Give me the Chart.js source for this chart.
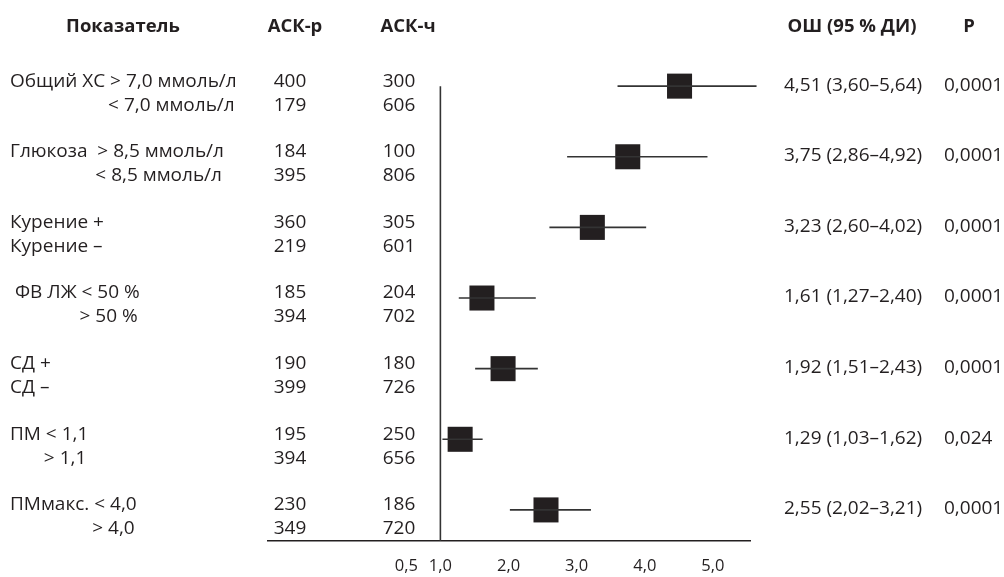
<!DOCTYPE html>
<html>
<head>
<meta charset="utf-8">
<script src="https://cdn.jsdelivr.net/npm/chart.js@4.4.1/dist/chart.umd.min.js"></script>
<style>
  html, body { margin: 0; padding: 0; background: #fff; }
  #wrap { width: 1004px; height: 577px; position: relative; }
</style>
</head>
<body>
<div id="wrap"><canvas id="forest"></canvas></div>
<script>
// rows of the table, top to bottom
const factorLabels = [
  ['Общий ХС > 7,0 ммоль/л', '< 7,0 ммоль/л'],
  ['Глюкоза  > 8,5 ммоль/л', '< 8,5 ммоль/л'],
  ['Курение +', 'Курение –'],
  [' ФВ ЛЖ < 50 %', '> 50 %'],
  ['СД +', 'СД –'],
  ['ПМ < 1,1', '> 1,1'],
  ['ПМмакс. < 4,0', '> 4,0']
];
const askR  = [[400, 179], [184, 395], [360, 219], [185, 394], [190, 399], [195, 394], [230, 349]];
const askCh = [[300, 606], [100, 806], [305, 601], [204, 702], [180, 726], [250, 656], [186, 720]];
const oddsRatio = [4.51, 3.75, 3.23, 1.61, 1.92, 1.29, 2.55];
const ciLow  = [3.60, 2.86, 2.60, 1.27, 1.51, 1.03, 2.02];
const ciHigh = [5.64, 4.92, 4.02, 2.40, 2.43, 1.62, 3.21];
const pValues = ['0,0001', '0,0001', '0,0001', '0,0001', '0,0001', '0,024', '0,0001'];
const tickValues = [0.5, 1, 2, 3, 4, 5];
const headers = ['Показатель', 'АСК-р', 'АСК-ч', 'ОШ (95 % ДИ)', 'Р'];

const ink = '#231f20';
const font = '"Open Sans", "Noto Sans", sans-serif';
const comma = (v, d) => v.toFixed(d).replace('.', ',');

const whiskers = oddsRatio.map((_, i) => ({
  type: 'scatter',
  showLine: true,
  data: [{x: ciLow[i], y: i}, {x: ciHigh[i], y: i}],
  borderColor: '#333',
  borderWidth: 1.6,
  pointRadius: 0,
  clip: false
}));

const tablePlugin = {
  id: 'forestTable',
  afterDraw(chart) {
    const {ctx, scales: {y}} = chart;
    ctx.save();
    ctx.fillStyle = ink;
    ctx.textBaseline = 'middle';

    ctx.font = 'bold 18.5px ' + font;
    ctx.textAlign = 'center';
    [123, 295, 408, 852, 969].forEach((cx, k) => ctx.fillText(headers[k], cx, 27));

    ctx.font = '19px ' + font;
    factorLabels.forEach((pair, i) => {
      const py = y.getPixelForValue(i);
      ctx.textAlign = 'left';
      ctx.fillText(pair[0], 10, py - 5);
      const w = ctx.measureText(pair[0]).width;
      if (/^[<>]/.test(pair[1])) {
        ctx.textAlign = 'right';
        ctx.fillText(pair[1], 10 + w - 2, py + 19);
      } else {
        ctx.fillText(pair[1], 10, py + 19);
      }
      ctx.textAlign = 'center';
      ctx.fillText(askR[i][0], 290, py - 5);
      ctx.fillText(askR[i][1], 290, py + 19);
      ctx.fillText(askCh[i][0], 399, py - 5);
      ctx.fillText(askCh[i][1], 399, py + 19);
      ctx.textAlign = 'left';
      ctx.fillText(comma(oddsRatio[i], 2) + ' (' + comma(ciLow[i], 2) + '–' + comma(ciHigh[i], 2) + ')', 784, py - 1);
      ctx.fillText(pValues[i], 944, py - 1);
    });
    ctx.restore();
  }
};

new Chart(document.getElementById('forest'), {
  type: 'scatter',
  data: {
    datasets: [
      {
        showLine: true,
        data: [{x: 1, y: 0}, {x: 1, y: 6.44}],
        borderColor: '#333',
        borderWidth: 1.6,
        pointRadius: 0
      },
      ...whiskers,
      {
        data: oddsRatio.map((v, i) => ({x: v, y: i})),
        pointStyle: 'rect',
        pointRadius: 17.7,
        pointHoverRadius: 17.7,
        backgroundColor: ink,
        borderColor: ink,
        borderWidth: 0
      }
    ]
  },
  options: {
    responsive: true,
    maintainAspectRatio: false,
    animation: false,
    layout: { padding: { left: 268, right: 254, top: 60, bottom: 0 } },
    plugins: { legend: { display: false }, tooltip: { enabled: false } },
    scales: {
      x: {
        type: 'linear',
        min: -1.53,
        max: 5.544,
        afterBuildTicks: axis => { axis.ticks = tickValues.map(v => ({value: v})); },
        afterFit: axis => { axis.height = 36; },
        grid: { display: false, drawTicks: false },
        border: { display: true, color: ink, width: 1.6 },
        ticks: {
          padding: 15,
          color: ink,
          font: { family: font, size: 16.5 },
          callback: v => comma(v, 1)
        }
      },
      y: {
        type: 'linear',
        reverse: true,
        min: -0.37,
        max: 6.44,
        display: false
      }
    }
  },
  plugins: [tablePlugin]
});
</script>
</body>
</html>
